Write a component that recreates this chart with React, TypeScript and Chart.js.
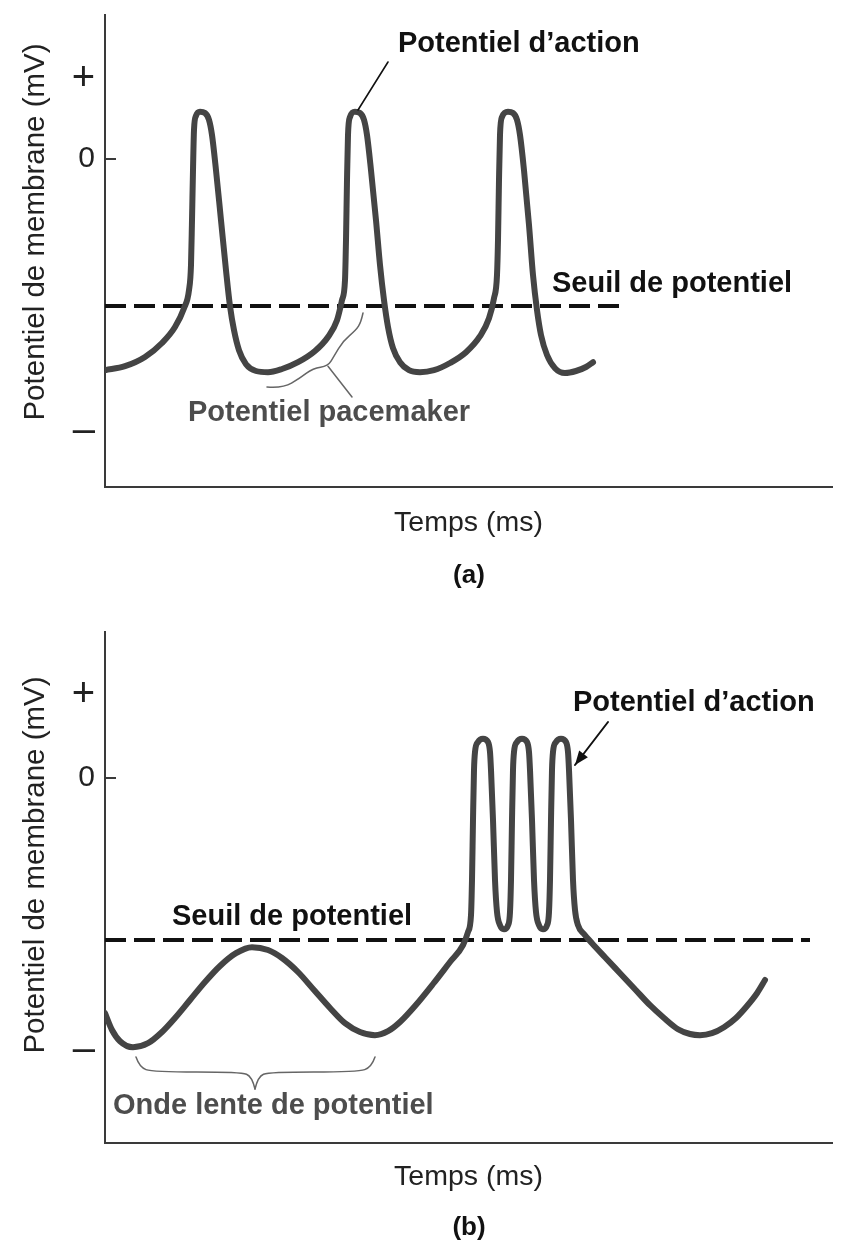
import React, { useEffect, useRef } from 'react';
import { Chart, registerables } from 'chart.js';

Chart.register(...registerables);

const FONT = '"Liberation Sans", Arial, Helvetica, sans-serif';
const AXIS_COLOR = '#3a3a3a';
const CURVE_COLOR = '#444444';

// ---------- data (time in arbitrary ms units, membrane potential in mV) ----------
const A_TIME = [0, 4, 8, 11.4, 14, 15.8, 16.8, 17.2, 17.4, 17.6, 17.8, 18.2, 19, 20, 20.8, 21.4, 22.2, 23.2, 24.2, 25,
  25.8, 26.8, 28.2, 30.2, 32.6, 35.4, 38.6, 42, 44.6, 46.4, 47.4, 48, 48.2, 48.4, 48.6, 49, 50, 51, 51.8, 52.4,
  53.2, 54.2, 55, 55.8, 56.6, 57.6, 59, 60.8, 63, 65.8, 69, 72.2, 75, 76.8, 77.8, 78.4, 78.6, 78.8, 79, 79.4,
  80.6, 81.6, 82.4, 83, 83.8, 84.8, 85.6, 86.4, 87.2, 88.4, 90, 92, 94.2, 96.2, 97.6];
const A_MV = [-52.8, -51.8, -49.5, -46, -42, -37.3, -32.8, -26.5, -15.3, -2.8, 7.3, 10.8, 11.8, 11.5, 9.8, 6, -2.8, -15.3, -27.8, -36.8,
  -42.8, -47.8, -51.3, -53, -53.3, -52.5, -50.8, -48, -44.5, -40.3, -35.3, -30.3, -20.3, -5.3, 6, 10.5, 11.8, 11.5, 9.8, 6,
  -2.8, -15.3, -26.5, -35.3, -42, -47.3, -50.8, -52.8, -53.3, -52.8, -51, -48.3, -44.3, -39.8, -34.8, -29, -20.3, -5.3, 6, 10.5,
  11.8, 11.5, 9.8, 6, -2.8, -16.5, -29, -37.8, -44, -49, -52.3, -53.5, -53, -52, -50.8];

const B_TIME = [0, 1.4, 3, 5.6, 8.6, 11.4, 14, 17, 20, 23, 26.2, 29.4, 32.6, 35.4, 38.6, 41.8, 45, 48, 51, 54,
  56.6, 59, 62, 65.6, 69, 71.6, 72.6, 73.2, 73.4, 73.6, 73.8, 74, 74.6, 75.6, 76.6, 77, 77.2, 77.6, 78, 78.4,
  79, 79.8, 80.6, 81, 81.2, 81.4, 81.6, 81.8, 82.4, 83.4, 84.4, 84.8, 85, 85.4, 85.8, 86.2, 86.8, 87.6, 88.4, 88.8,
  89, 89.2, 89.4, 89.6, 90.2, 91.2, 92.2, 92.6, 92.8, 93.2, 93.6, 94, 94.6, 95.8, 97.4, 100, 103, 106, 109, 111.8,
  114.6, 117, 119, 121.4, 123.8, 126.2, 128.4, 130.4, 132];
const B_MV = [-58.8, -63, -65.8, -67.3, -66.3, -63.5, -60, -55.5, -51, -47, -43.8, -42.3, -43, -45, -48.5, -53, -57.5, -61.3, -63.5, -64.3,
  -63.3, -61, -57, -51.5, -46, -41.8, -38.5, -34.3, -25.5, -10.5, 2, 6.5, 9, 9.8, 9, 6.5, 2, -10.5, -25.5, -33.5,
  -36.8, -37.8, -36.8, -33.5, -25.5, -10.5, 2, 6.5, 9, 9.8, 9, 6.5, 2, -10.5, -25.5, -33.5, -36.8, -37.8, -36.8, -33.5,
  -25.5, -10.5, 2, 6.5, 9, 9.8, 9, 6.5, 2, -10.5, -25.5, -33, -36.8, -39, -41.3, -44.8, -48.8, -52.8, -56.8, -60,
  -62.8, -64, -64.3, -63.8, -62.3, -60, -57, -53.8, -50.5];

const A_TICKS = [20, 0, -68];
const B_TICKS = [20.75, 0, -68];
const TICK_LABELS = ['+', '0', '–'];

const A_THRESHOLD = -36.75;
const A_THRESHOLD_END = 103.4;
const B_THRESHOLD = -40.5;
const B_THRESHOLD_END = 141;

const X_TITLE = 'Temps (ms)';
const Y_TITLE = 'Potentiel de membrane (mV)';

// ---------- annotations ----------
type Pt = [number, number];
type Ann =
  | { kind: 'text'; text: string; at: Pt; size: number; bold: boolean; color: string }
  | { kind: 'line'; pts: Pt[]; color: string; width: number; smooth?: boolean; arrow?: boolean };

const A_ANN: Ann[] = [
  { kind: 'text', text: 'Potentiel d’action', at: [58.6, 28.75], size: 29, bold: true, color: '#111' },
  { kind: 'line', pts: [[56.6, 24.25], [50.6, 12.25]], color: '#111', width: 1.6 },
  { kind: 'text', text: 'Seuil de potentiel', at: [89.4, -31.25], size: 29, bold: true, color: '#111' },
  { kind: 'text', text: 'Potentiel pacemaker', at: [16.6, -63.4], size: 29, bold: true, color: '#4d4d4d' },
  {
    kind: 'line', smooth: true, color: '#666', width: 1.5,
    pts: [[32.4, -57], [35.6, -57.3], [39, -54.8], [41.6, -52.3], [44.6, -51.8], [45.8, -49.3], [47.6, -45.5], [50.2, -42.8], [51.2, -40.8], [51.6, -38.5]],
  },
  { kind: 'line', pts: [[44.6, -51.8], [49.4, -59.5]], color: '#666', width: 1.5 },
];

const B_ANN: Ann[] = [
  { kind: 'text', text: 'Potentiel d’action', at: [93.6, 18.75], size: 29, bold: true, color: '#111' },
  { kind: 'line', pts: [[100.6, 14], [94, 3.25]], color: '#111', width: 2, arrow: true },
  { kind: 'text', text: 'Seuil de potentiel', at: [13.4, -34.75], size: 29, bold: true, color: '#111' },
  { kind: 'text', text: 'Onde lente de potentiel', at: [1.6, -82], size: 29, bold: true, color: '#4d4d4d' },
  {
    kind: 'line', smooth: true, color: '#666', width: 1.5,
    pts: [[6.2, -69.75], [6.9, -72.3], [9.5, -73.5], [27.2, -73.5], [29.4, -74.6], [30, -77.75]],
  },
  {
    kind: 'line', smooth: true, color: '#666', width: 1.5,
    pts: [[30, -77.75], [30.6, -74.6], [32.8, -73.5], [50.6, -73.5], [53.3, -72.3], [54, -69.75]],
  },
];

interface Panel {
  time: number[];
  mv: number[];
  ticks: number[];
  threshold: number;
  thresholdEnd: number;
  yMin: number;
  yMax: number;
  height: number;
  padTop: number;
  xHeight: number;
  xTitlePad: number;
  yTitleAt: number;
  label: string;
  labelOffset: number;
  ann: Ann[];
}

const PANEL_A: Panel = {
  time: A_TIME, mv: A_MV, ticks: A_TICKS, threshold: A_THRESHOLD, thresholdEnd: A_THRESHOLD_END,
  yMin: -82, yMax: 36, height: 600, padTop: 15, xHeight: 113, xTitlePad: 60, yTitleAt: -18.25,
  label: '(a)', labelOffset: 89, ann: A_ANN,
};
const PANEL_B: Panel = {
  time: B_TIME, mv: B_MV, ticks: B_TICKS, threshold: B_THRESHOLD, thresholdEnd: B_THRESHOLD_END,
  yMin: -91.25, yMax: 36.5, height: 646, padTop: 32, xHeight: 103, xTitlePad: 52, yTitleAt: -21.75,
  label: '(b)', labelOffset: 85, ann: B_ANN,
};

function makePlugin(p: Panel) {
  return {
    id: 'panelAnnotations',
    afterDraw(chart: any) {
      const ctx: CanvasRenderingContext2D = chart.ctx;
      const xs = chart.scales.x;
      const ys = chart.scales.y;
      const area = chart.chartArea;
      const X = (t: number) => xs.getPixelForValue(t);
      const Y = (v: number) => ys.getPixelForValue(v);
      ctx.save();
      // small tick mark at 0
      ctx.strokeStyle = AXIS_COLOR;
      ctx.lineWidth = 2;
      ctx.beginPath();
      ctx.moveTo(X(0), Y(0));
      ctx.lineTo(X(2.2), Y(0));
      ctx.stroke();

      for (const a of p.ann) {
        if (a.kind === 'text') {
          ctx.font = `${a.bold ? 'bold ' : ''}${a.size}px ${FONT}`;
          ctx.fillStyle = a.color;
          ctx.textAlign = 'left';
          ctx.textBaseline = 'middle';
          ctx.fillText(a.text, X(a.at[0]), Y(a.at[1]));
        } else {
          const pts = a.pts.map(([t, v]) => [X(t), Y(v)]);
          ctx.strokeStyle = a.color;
          ctx.lineWidth = a.width;
          ctx.lineCap = 'round';
          ctx.lineJoin = 'round';
          ctx.beginPath();
          ctx.moveTo(pts[0][0], pts[0][1]);
          if (a.smooth && pts.length > 2) {
            for (let i = 1; i < pts.length - 1; i++) {
              if (i === pts.length - 2) {
                ctx.quadraticCurveTo(pts[i][0], pts[i][1], pts[i + 1][0], pts[i + 1][1]);
              } else {
                const mx = (pts[i][0] + pts[i + 1][0]) / 2;
                const my = (pts[i][1] + pts[i + 1][1]) / 2;
                ctx.quadraticCurveTo(pts[i][0], pts[i][1], mx, my);
              }
            }
          } else {
            for (let i = 1; i < pts.length; i++) ctx.lineTo(pts[i][0], pts[i][1]);
          }
          ctx.stroke();
          if (a.arrow) {
            const [x1, y1] = pts[pts.length - 2];
            const [x2, y2] = pts[pts.length - 1];
            const ang = Math.atan2(y2 - y1, x2 - x1);
            const len = 14;
            const half = 5.5;
            const bx = x2 - len * Math.cos(ang);
            const by = y2 - len * Math.sin(ang);
            ctx.fillStyle = a.color;
            ctx.beginPath();
            ctx.moveTo(x2, y2);
            ctx.lineTo(bx + half * Math.sin(ang), by - half * Math.cos(ang));
            ctx.lineTo(bx - half * Math.sin(ang), by + half * Math.cos(ang));
            ctx.closePath();
            ctx.fill();
          }
        }
      }

      // y axis title
      ctx.save();
      ctx.translate(area.left - 69, Y(p.yTitleAt));
      ctx.rotate(-Math.PI / 2);
      ctx.font = `29.5px ${FONT}`;
      ctx.fillStyle = '#222';
      ctx.textAlign = 'center';
      ctx.textBaseline = 'middle';
      ctx.fillText(Y_TITLE, 0, 0);
      ctx.restore();

      // panel label
      ctx.font = `bold 26px ${FONT}`;
      ctx.fillStyle = '#111';
      ctx.textAlign = 'center';
      ctx.textBaseline = 'middle';
      ctx.fillText(p.label, X(72.8), area.bottom + p.labelOffset);
      ctx.restore();
    },
  };
}

function makeConfig(p: Panel): any {
  return {
    type: 'line',
    data: {
      datasets: [
        {
          data: p.time.map((t, i) => ({ x: t, y: p.mv[i] })),
          borderColor: CURVE_COLOR,
          borderWidth: 6,
          pointRadius: 0,
          tension: 0.4,
          cubicInterpolationMode: 'monotone',
          borderCapStyle: 'round',
          borderJoinStyle: 'round',
          fill: false,
        },
        {
          data: [{ x: 0, y: p.threshold }, { x: p.thresholdEnd, y: p.threshold }],
          borderColor: '#111',
          borderWidth: 4,
          borderDash: [21, 8],
          pointRadius: 0,
          tension: 0,
          fill: false,
        },
      ],
    },
    options: {
      responsive: false,
      maintainAspectRatio: false,
      animation: false,
      events: [],
      layout: { padding: { top: p.padTop, right: 9, bottom: 0, left: 0 } },
      plugins: { legend: { display: false }, tooltip: { enabled: false }, title: { display: false } },
      scales: {
        x: {
          type: 'linear',
          min: 0,
          max: 145.4,
          ticks: { display: false },
          grid: { display: true, drawOnChartArea: false, drawTicks: false },
          border: { display: true, color: AXIS_COLOR, width: 2 },
          title: {
            display: true,
            text: X_TITLE,
            color: '#222',
            font: { family: FONT, size: 28.5 },
            padding: { top: 0, bottom: p.xTitlePad },
          },
          afterFit: (s: any) => {
            s.height = p.xHeight;
            s.paddingLeft = 0;
            s.paddingRight = 0;
          },
        },
        y: {
          type: 'linear',
          min: p.yMin,
          max: p.yMax,
          afterBuildTicks: (s: any) => { s.ticks = p.ticks.map((v) => ({ value: v })); },
          ticks: {
            autoSkip: false,
            padding: 10,
            color: '#222',
            font: (c: any) => ({ family: FONT, size: c.tick && c.tick.value === 0 ? 30 : 40 }),
            callback: (v: number) => {
              const i = p.ticks.indexOf(v);
              return i >= 0 ? TICK_LABELS[i] : '';
            },
          },
          grid: { display: true, drawOnChartArea: false, drawTicks: false },
          border: { display: true, color: AXIS_COLOR, width: 2 },
          afterFit: (s: any) => {
            s.width = 105;
            s.paddingTop = 0;
            s.paddingBottom = 0;
          },
        },
      },
    },
    plugins: [makePlugin(p)],
  };
}

function PanelChart({ panel, top }: { panel: Panel; top: number }) {
  const ref = useRef<HTMLCanvasElement>(null);
  useEffect(() => {
    const chart = new Chart(ref.current as HTMLCanvasElement, makeConfig(panel));
    return () => chart.destroy();
  }, [panel]);
  return (
    <canvas
      ref={ref}
      width={841}
      height={panel.height}
      style={{ position: 'absolute', left: 0, top, width: 841, height: panel.height }}
    />
  );
}

export default function App() {
  return (
    <div style={{ position: 'absolute', left: 0, top: 0, width: 841, height: 1246, background: '#ffffff' }}>
      <PanelChart panel={PANEL_A} top={0} />
      <PanelChart panel={PANEL_B} top={600} />
    </div>
  );
}
